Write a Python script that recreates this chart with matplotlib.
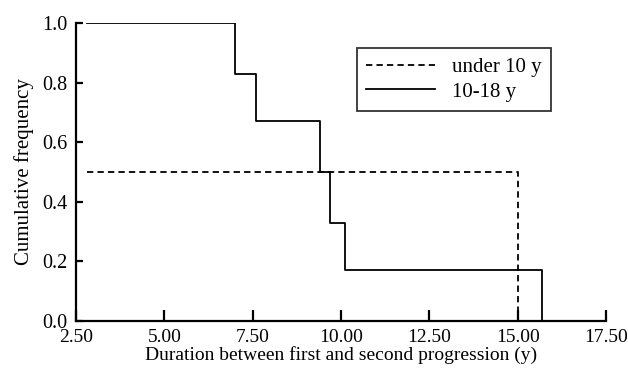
import numpy as np
import matplotlib
matplotlib.use("Agg")
import matplotlib.pyplot as plt

plt.rcParams['font.family'] = ['Liberation Serif', 'DejaVu Serif']

# courbes en escalier (fréquence cumulée)
x_under10 = [2.8, 15.0, 15.0]
y_under10 = [0.5, 0.5, 0.0]

x_10_18 = [2.8, 7.0, 7.0, 7.6, 7.6, 9.4, 9.4, 9.7, 9.7, 10.1, 10.1, 15.7, 15.7]
y_10_18 = [1.0, 1.0, 0.83, 0.83, 0.67, 0.67, 0.5, 0.5, 0.33, 0.33, 0.17, 0.17, 0.0]

xticks = [2.5, 5.0, 7.5, 10.0, 12.5, 15.0, 17.5]
yticks = [0.0, 0.2, 0.4, 0.6, 0.8, 1.0]

fig = plt.figure(figsize=(6.28, 3.69), dpi=100)
ax = fig.add_axes([0.121, 0.130, 0.844, 0.808])

ax.plot(x_under10, y_under10, 'k--', lw=1.3, dashes=(3.5, 2.3), label="under 10 y")
ax.plot(x_10_18, y_10_18, 'k-', lw=1.3, label="10-18 y")

ax.set_xlim(2.5, 17.5)
ax.set_ylim(0, 1.0)
ax.set_xticks(xticks)
ax.set_xticklabels(["%.2f" % v for v in xticks])
ax.set_yticks(yticks)
ax.set_yticklabels(["%.1f" % v for v in yticks])
ax.tick_params(axis='x', direction='in', length=8, width=1.6, labelsize=14, pad=6)
ax.tick_params(axis='y', direction='in', length=5, width=1.6, labelsize=14.5, pad=6)

for s in ['top', 'right']:
    ax.spines[s].set_visible(False)
for s in ['left', 'bottom']:
    ax.spines[s].set_linewidth(1.6)

ax.set_xlabel("Duration between first and second progression (y)", fontsize=14, labelpad=0)
ax.set_ylabel("Cumulative frequency", fontsize=15, labelpad=6)

leg = ax.legend(loc='upper left', bbox_to_anchor=(0.53, 0.916), fontsize=15,
                frameon=True, fancybox=False, edgecolor='black', borderaxespad=0,
                handlelength=3.3, handletextpad=0.8, borderpad=0.45, labelspacing=0.25)
leg.get_frame().set_linewidth(1.3)

plt.savefig("out.png", dpi=100)
